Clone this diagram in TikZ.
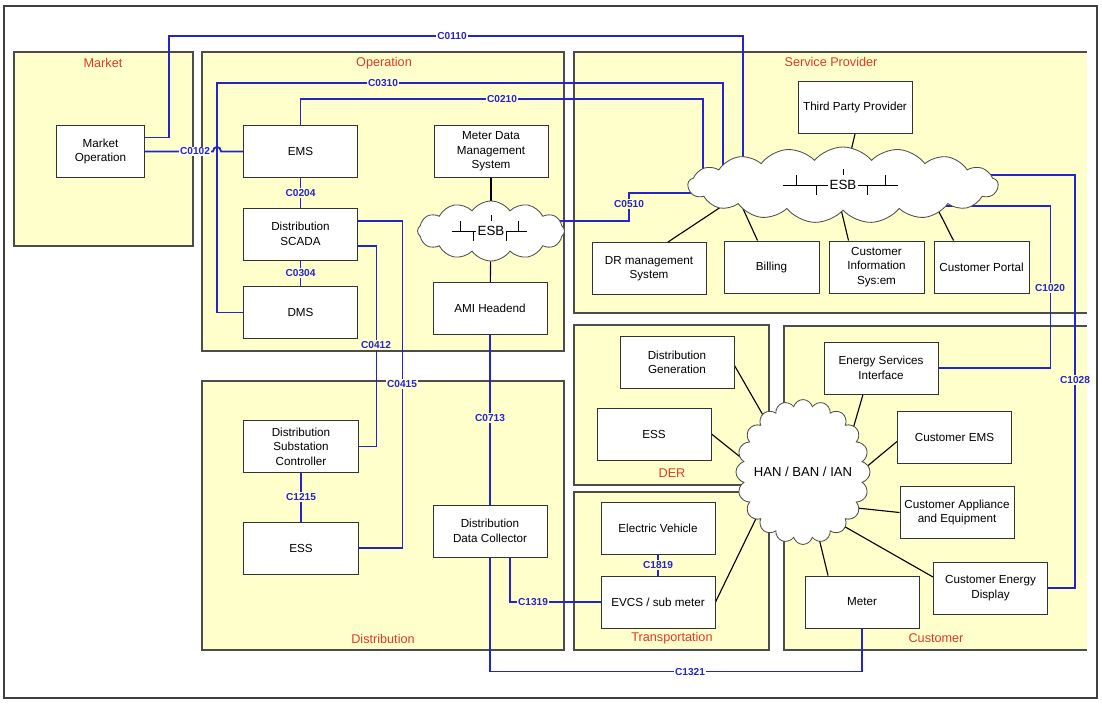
\documentclass[tikz,border=0pt]{standalone}
\usepackage{fontspec}
\setmainfont{Liberation Sans}
\usetikzlibrary{shapes,positioning,calc}

\definecolor{areafill}{RGB}{255,255,204}
\definecolor{regred}{RGB}{222,58,38}
\definecolor{busblue}{RGB}{36,36,204}

\pgfdeclarelayer{regions}
\pgfdeclarelayer{wires}
\pgfsetlayers{regions,wires,main}

\tikzset{
    esbbus/.pic={
        \draw[line width=0.7pt] (-60,0) -- (55,0);
        \draw[line width=0.7pt] (-47,0) -- (-47,-10) (-27,0) -- (-27,10)
            (24,0) -- (24,10) (42,0) -- (42,-10) (0,-10) -- (0,-16);
        \node[fill=white, inner sep=1pt, font=\fontsize{9.5}{11}\selectfont] (-txt) at (0,0) {ESB};
    }
}

\begin{document}
\begin{tikzpicture}[
    x=0.025cm, y=-0.025cm,
    region/.style={draw=black!70, fill=areafill, line width=0.8pt},
    regionlabel/.style={text=regred, font=\fontsize{9}{11}\selectfont},
    unit/.style={rectangle, draw=black!80, fill=white, line width=0.7pt, minimum width=2.85cm,
        minimum height=1.3cm, align=center, inner sep=1pt, font=\fontsize{8.3}{10.3}\selectfont},
    esbcloud/.style={cloud, cloud ignores aspect, draw=black!70, fill=white, line width=0.6pt},
    link/.style={draw=black, line width=0.8pt},
    bus/.style={draw=busblue, line width=1.3pt},
    clabel/.style={text=busblue, fill=areafill, inner sep=1pt, font=\bfseries\fontsize{7.2}{8}\selectfont}
]
    \useasboundingbox (0,0) rectangle (1102,703);

    % Domains
    \begin{pgfonlayer}{regions}
        \draw[black!75, line width=0.8pt] (4,6) rectangle (1097,698);
        \draw[region] (14,52) rectangle (193,246);
        \draw[region] (202,52) rectangle (564,351);
        \draw[region] (202,381) rectangle (564,650);
        \fill[areafill] (574,52) rectangle (1087,313);
        \draw[black!70, line width=0.8pt] (1087,52) -- (574,52) -- (574,313) -- (1087,313);
        \draw[region] (574,325) rectangle (769,485);
        \draw[region] (574,492) rectangle (769,650);
        \fill[areafill] (784,326) rectangle (1087,650);
        \draw[black!70, line width=0.8pt] (1087,326) -- (784,326) -- (784,650) -- (1087,650);
    \end{pgfonlayer}

    \node[regionlabel] (lmarket) at (103,63) {Market};
    \node[regionlabel] (loper) at (384,63) {Operation};
    \node[regionlabel] (lsp) at (831,62) {Service Provider};
    \node[regionlabel] (ldist) at (383,639) {Distribution};
    \node[regionlabel] (lder) at (672,473) {DER};
    \node[regionlabel] (ltrans) at (672,638) {Transportation};
    \node[regionlabel] (lcust) at (936,638) {Customer};

    % Market and Operation
    \node[unit, minimum width=2.175cm] (mktop) at (100.5,151.5) {Market\\Operation};
    \node[unit] (ems) at (300.5,151.5) {EMS};
    \node[unit] (scada) at (300.5,234) {Distribution\\SCADA};
    \node[unit] (dms) at (300.5,312.5) {DMS};
    \node[unit] (mdms) at (491,151.5) {Meter Data\\Management\\System};
    \node[esbcloud, cloud puffs=12, cloud puff arc=110, minimum width=3.675cm, minimum height=1.5cm] (esbop) at (491,231) {};
    \pic[xscale=0.65] (opbus) at (esbop.center) {esbbus};
    \node[unit] (amihe) at (490,308.5) {AMI Headend};

    % Distribution
    \node[unit] (dsc) at (301,446.5) {Distribution\\Substation\\Controller};
    \node[unit] (essd) at (301,548) {ESS};
    \node[unit] (ddc) at (490,531) {Distribution\\Data Collector};

    % Service Provider
    \node[unit] (tpp) at (855,107.5) {Third Party Provider};
    \node[esbcloud, cloud puffs=17, cloud puff arc=100, minimum width=7.75cm, minimum height=1.9cm] (esbsp) at (843,185) {};
    \pic (spbus) at (esbsp.center) {esbbus};
    \node[unit] (drms) at (649,268.5) {DR management\\System};
    \node[unit, minimum width=2.375cm] (bill) at (771.5,267) {Billing};
    \node[unit, minimum width=2.375cm] (cis) at (876.5,267) {Customer\\Information\\Sys:em};
    \node[unit, minimum width=2.375cm] (cportal) at (981.5,267) {Customer Portal};

    % DER, Transportation, Customer
    \node[unit] (dgen) at (677,362.5) {Distribution\\Generation};
    \node[unit] (essder) at (654,434) {ESS};
    \node[esbcloud, cloud puffs=20, minimum width=3.35cm, minimum height=3.62cm] (han) at (803,472) {};
    \node[font=\fontsize{9.3}{11}\selectfont] (hantxt) at (han.center) {HAN / BAN / IAN};
    \node[unit] (esi) at (881,368) {Energy Services\\Interface};
    \node[unit] (cems) at (954.5,437.5) {Customer EMS};
    \node[unit] (capp) at (957,512.5) {Customer Appliance\\and Equipment};
    \node[unit] (ev) at (658,528) {Electric Vehicle};
    \node[unit] (evcs) at (658,602) {EVCS / sub meter};
    \node[unit] (meter) at (862,602) {Meter};
    \node[unit] (ced) at (990.5,588) {Customer Energy\\Display};

    \begin{pgfonlayer}{wires}
        % ESB and HAN links
        \draw[link] (mdms) -- (esbop);
        \draw[link] (esbop) -- (amihe);
        \draw[link] (tpp.south) -- (esbsp.center);
        \draw[link] ($(drms.north)+(19,0)$) -- ($(esbsp.center)+(-98,6)$);
        \draw[link] ($(bill.north)+(-14,0)$) -- ($(esbsp.center)+(-104,15)$);
        \draw[link] ($(cis.north)+(-28,0)$) -- ($(esbsp.center)+(-3,20)$);
        \draw[link] ($(cportal.north)+(-28,0)$) -- ($(esbsp.center)+(90,15)$);
        \draw[link] ($(dgen.east)+(0,3)$) -- ($(han.center)+(-20,-22)$);
        \draw[link] (essder.east) -- ($(han.center)+(-24,16)$);
        \draw[link] ($(esi.south)+(-18,0)$) -- ($(han.center)+(38,-2)$);
        \draw[link] ($(cems.west)+(0,4)$) -- ($(han.center)+(26,26)$);
        \draw[link] (capp.west) -- ($(han.center)+(16,32)$);
        \draw[link] ($(ced.west)+(0,-11)$) -- ($(han.center)+(16,40)$);
        \draw[link] ($(meter.north)+(-34,0)$) -- (han.center);
        \draw[link] (evcs.east) -- ($(han.center)+(-38,28)$);

        % Interfaces
        \draw[bus] ($(mktop.east)+(0,-14)$) -| (169,36) -| (743,36 |- esbsp.center);
        \draw[bus] (mktop.east) -- (213,151.5) .. controls (213,145.5) and (221,145.5) .. (221,151.5) -- (ems.west);
        \draw[bus] (dms.west) -| (217,83) -| (723,83 |- esbsp.center);
        \draw[bus] (ems.north) |- (703,99) -- (703,99 |- esbsp.center);
        \draw[bus] ($(esbop.center)+(0,-10)$) -| (629,193) -- (esbsp.center |- 629,193);
        \draw[bus] (ems) -- (scada);
        \draw[bus] (scada) -- (dms);
        \draw[bus] ($(scada.east)+(0,12)$) -| ($(dsc.east)+(18,0)$) -- (dsc.east);
        \draw[bus] ($(scada.east)+(0,-13)$) -| ($(essd.east)+(44,0)$) -- (essd.east);
        \draw[bus] (amihe) -- (ddc);
        \draw[bus] (dsc) -- (essd);
        \draw[bus] ($(ddc.south)+(20,0)$) |- (evcs.west);
        \draw[bus] (ddc.south) |- ($(meter.south)+(0,43)$) -- (meter.south);
        \draw[bus] (ev) -- (evcs);
        \draw[bus] ($(esbsp.center)+(0,21)$) -| ($(esi.east)+(112,0)$) -- (esi.east);
        \draw[bus] ($(esbsp.center)+(0,-10)$) -| ($(ced.east)+(27,0)$) -- (ced.east);

        \node[clabel, fill=white] (n0110) at (452,36) {C0110};
        \node[clabel, fill=white] (n0102) at (195,151.5) {C0102};
        \node[clabel] (n0310) at (383,83) {C0310};
        \node[clabel] (n0210) at (502,99) {C0210};
        \node[clabel] (n0510) at (629,204) {C0510};
        \node[clabel] (n0204) at ($(ems.south)!0.5!(scada.north)$) {C0204};
        \node[clabel] (n0304) at ($(scada.south)!0.5!(dms.north)$) {C0304};
        \node[clabel] (n0412) at (376,345) {C0412};
        \node[clabel] (n0415) at (402,384) {C0415};
        \node[clabel] (n0713) at (490,418) {C0713};
        \node[clabel] (n1215) at ($(dsc.south)!0.5!(essd.north)$) {C1215};
        \node[clabel] (n1319) at (533,602) {C1319};
        \node[clabel, fill=white] (n1321) at (690,672) {C1321};
        \node[clabel] (n1819) at ($(ev.south)!0.5!(evcs.north)$) {C1819};
        \node[clabel] (n1020) at (1050,288) {C1020};
        \node[clabel] (n1028) at (1075,380) {C1028};
    \end{pgfonlayer}
\end{tikzpicture}
\end{document}
